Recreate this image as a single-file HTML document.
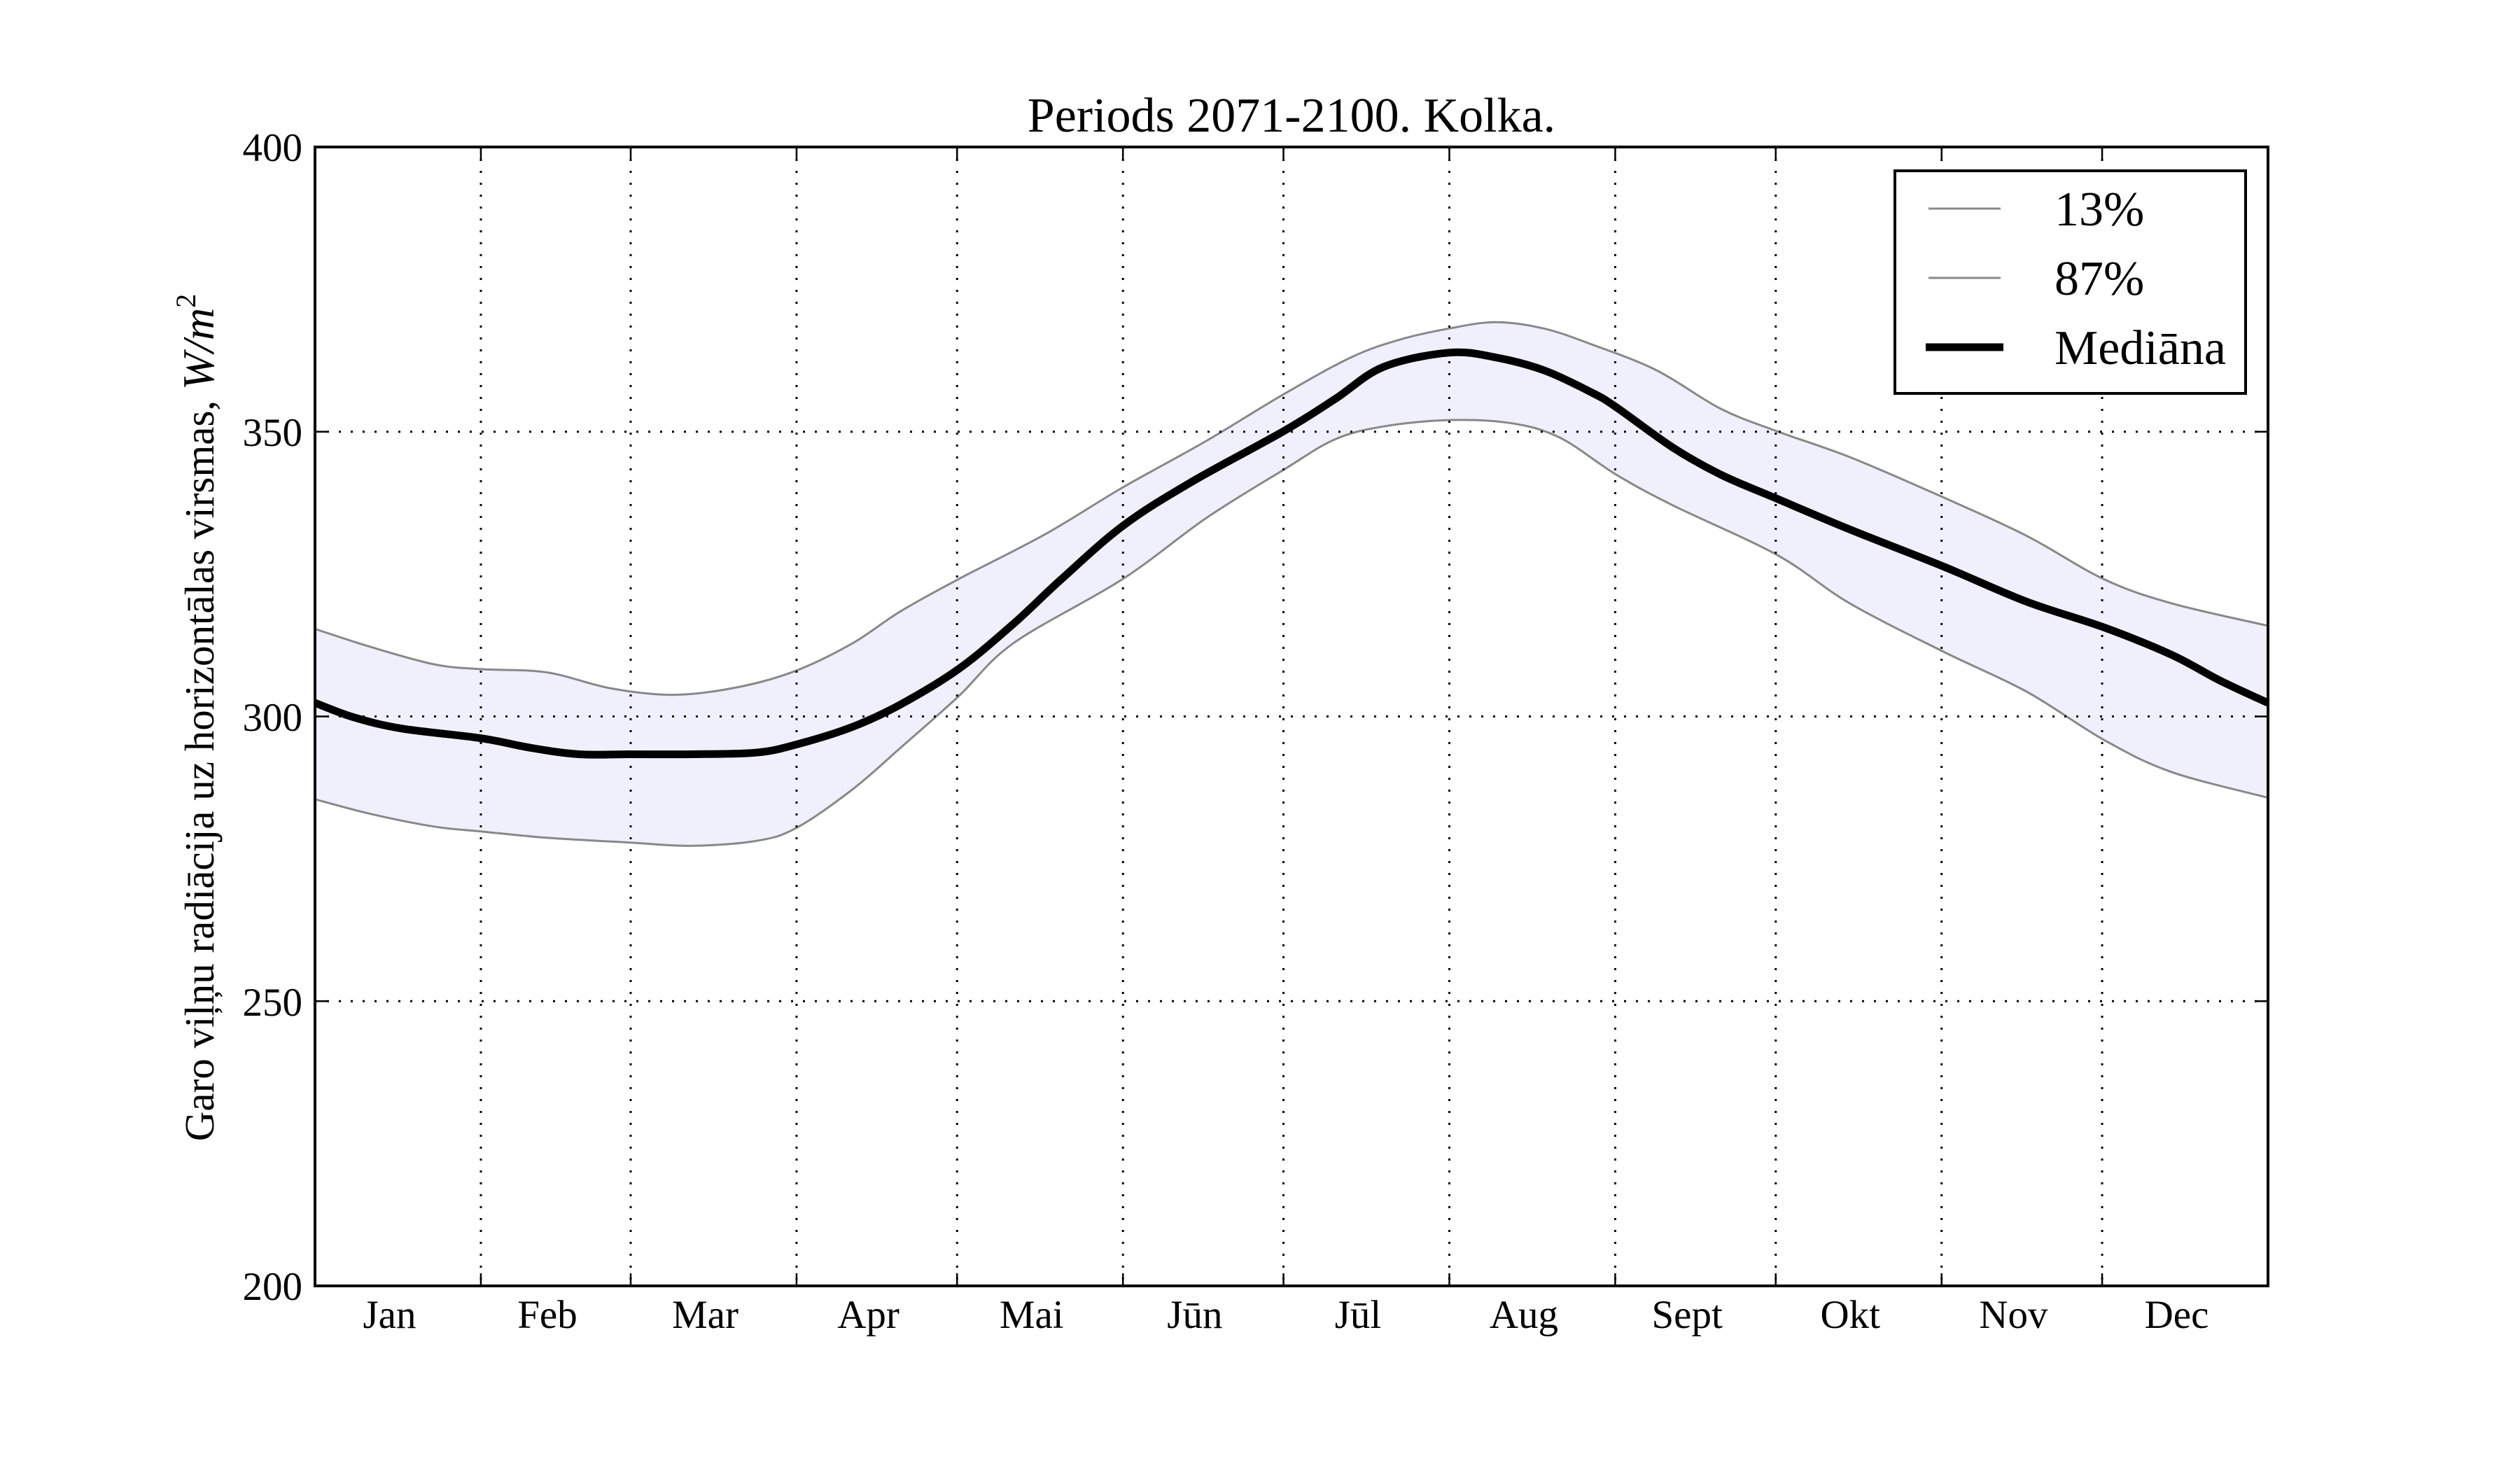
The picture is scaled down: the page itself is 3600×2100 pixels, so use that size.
<!DOCTYPE html>
<html><head><meta charset="utf-8"><style>
html,body{margin:0;padding:0;background:#fff;}
svg{display:block;}
text{font-family:"Liberation Serif",serif;fill:#000;}
</style></head><body>
<svg id="s" width="3600" height="2100" viewBox="0 0 3600 2100" xmlns="http://www.w3.org/2000/svg">
<rect width="3600" height="2100" fill="#fff"/>
<g id="plot"></g>
<g id="grid" stroke="#000" stroke-width="3" stroke-dasharray="3,14" fill="none"></g>
<g id="ticks" stroke="#000" stroke-width="2.5"></g>
<rect x="450" y="210" width="2790" height="1627" fill="none" stroke="#000" stroke-width="4"/>
<text x="1845" y="188" font-size="70" text-anchor="middle">Periods 2071-2100. Kolka.</text>
<g font-size="57" text-anchor="end">
<text x="432" y="230">400</text>
<text x="432" y="637">350</text>
<text x="432" y="1044">300</text>
<text x="432" y="1451">250</text>
<text x="432" y="1857">200</text>
</g>
<g id="months" font-size="57" text-anchor="middle"></g>
<text transform="translate(305,1025) rotate(-90)" font-size="59" text-anchor="middle">Garo viļņu radiācija uz horizontālas virsmas, <tspan font-style="italic" font-size="64">W/m</tspan><tspan font-size="40" dy="-26">2</tspan></text>
<rect x="2707" y="244" width="501" height="318" fill="#fff" stroke="#000" stroke-width="4"/>
<line x1="2755" y1="298" x2="2858" y2="298" stroke="#888" stroke-width="3"/>
<line x1="2755" y1="397" x2="2858" y2="397" stroke="#888" stroke-width="3"/>
<line x1="2751" y1="496" x2="2862" y2="496" stroke="#000" stroke-width="11"/>
<g font-size="70">
<text x="2935" y="322">13%</text>
<text x="2935" y="421">87%</text>
<text x="2935" y="520">Mediāna</text>
</g>
</svg>
<script>
var NS="http://www.w3.org/2000/svg";
function X(d){return 450+(d-196)*2.298;}
function Y(d){return 210+(d-91)*2.295;}
function tr(a){return a.map(function(p){return [X(p[0]),Y(p[1])];});}
function cr(p){var s="M"+p[0][0].toFixed(1)+","+p[0][1].toFixed(1);
for(var i=0;i<p.length-1;i++){var p0=p[i-1]||p[i],p1=p[i],p2=p[i+1],p3=p[i+2]||p2;
var c1=[p1[0]+(p2[0]-p0[0])/6,p1[1]+(p2[1]-p0[1])/6],c2=[p2[0]-(p3[0]-p1[0])/6,p2[1]-(p3[1]-p1[1])/6];
s+="C"+c1[0].toFixed(1)+","+c1[1].toFixed(1)+" "+c2[0].toFixed(1)+","+c2[1].toFixed(1)+" "+p2[0].toFixed(1)+","+p2[1].toFixed(1);}
return s;}
var med=tr([[196,437],[220,446],[250,453],[299,459],[330,465],[360,469],[392,469],[430,469],[470,468],[495,463],[530,452],[560,438],[596,416],[630,388],[660,360],[698,327],[740,300],[798,268],[830,248],[860,228],[901,219],[930,222],[960,230],[990,244],[1005,253],[1040,278],[1070,295],[1105,310],[1150,329],[1208,352],[1260,374],[1308,390],[1350,407],[1380,423],[1410,437]]);
var up=tr([[196,391],[230,402],[270,413],[299,416],[340,418],[380,428],[420,432],[460,427],[495,417],[530,400],[560,380],[596,360],[650,332],[698,303],[750,274],[798,245],[840,222],[870,211],[901,204],[930,200],[960,204],[990,214],[1030,230],[1070,254],[1105,268],[1150,284],[1208,309],[1260,333],[1308,360],[1350,375],[1410,389]]);
var lo=tr([[196,497],[230,506],[270,514],[299,517],[340,521],[392,524],[430,526],[470,523],[495,515],[530,491],[560,465],[596,433],[630,400],[698,360],[750,322],[798,292],[830,273],[860,265],[901,261],[940,263],[970,272],[1005,295],[1040,314],[1105,345],[1150,375],[1208,405],[1260,430],[1308,460],[1350,480],[1410,496]]);
var g=document.getElementById("plot");
function path(d,attrs){var e=document.createElementNS(NS,"path");e.setAttribute("d",d);for(var k in attrs)e.setAttribute(k,attrs[k]);g.appendChild(e);}
var lr=lo.slice().reverse();
var fill=cr(up)+"L"+lr[0][0]+","+lr[0][1]+cr(lr).substring(cr(lr).indexOf("C"))+"Z";
path(fill,{fill:"#f0f0fc",stroke:"none"});
path(cr(up),{fill:"none",stroke:"#888","stroke-width":3});
path(cr(lo),{fill:"none",stroke:"#888","stroke-width":3});
path(cr(med),{fill:"none",stroke:"#000","stroke-width":11,"stroke-linejoin":"round"});
var days=[0,31,59,90,120,151,181,212,243,273,304,334,365];
var names=["Jan","Feb","Mar","Apr","Mai","Jūn","Jūl","Aug","Sept","Okt","Nov","Dec"];
var gr=document.getElementById("grid"),tk=document.getElementById("ticks"),mo=document.getElementById("months");
function ln(par,x1,y1,x2,y2){var e=document.createElementNS(NS,"line");e.setAttribute("x1",x1);e.setAttribute("y1",y1);e.setAttribute("x2",x2);e.setAttribute("y2",y2);par.appendChild(e);}
var px=2790/365;
for(var i=1;i<12;i++){var x=450+days[i]*px;ln(gr,x,210,x,1837);ln(tk,x,1837,x,1819);ln(tk,x,210,x,228);}
[250,300,350].forEach(function(v){var y=1837-(v-200)*8.135;ln(gr,450,y,3240,y);});
[200,250,300,350,400].forEach(function(v){var y=1837-(v-200)*8.135;ln(tk,450,y,468,y);ln(tk,3240,y,3222,y);});
for(var i=0;i<12;i++){var t=document.createElementNS(NS,"text");t.setAttribute("x",450+(days[i]+days[i+1])/2*px-12);t.setAttribute("y",1897);t.textContent=names[i];mo.appendChild(t);}
</script>
</body></html>
